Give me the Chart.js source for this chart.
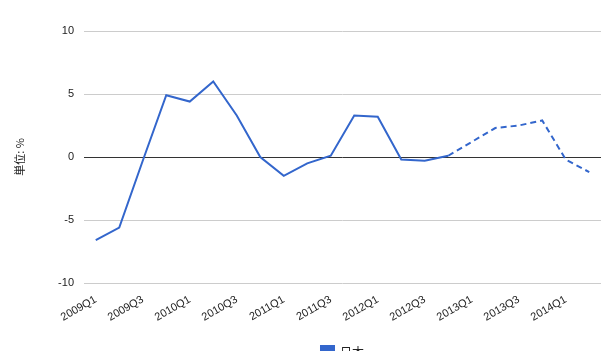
<!DOCTYPE html>
<html>
<head>
<meta charset="utf-8">
<script src="https://cdn.jsdelivr.net/npm/chart.js@4"></script>
<style>
  html, body { margin: 0; padding: 0; background: #fff; overflow: hidden; }
  #wrap { width: 616px; height: 369px; position: relative; }
</style>
</head>
<body>
<div id="wrap"><canvas id="chart"></canvas></div>
<script>
// 四半期ラベル
const quarters = [
  "2009Q1", "2009Q2", "2009Q3", "2009Q4",
  "2010Q1", "2010Q2", "2010Q3", "2010Q4",
  "2011Q1", "2011Q2", "2011Q3", "2011Q4",
  "2012Q1", "2012Q2", "2012Q3", "2012Q4",
  "2013Q1", "2013Q2", "2013Q3", "2013Q4",
  "2014Q1", "2014Q2"
];

// 日本 (単位: %)
const japanValues = [
  -6.6, -5.6, -0.3, 4.9,
  4.4, 6.0, 3.3, 0.0,
  -1.5, -0.5, 0.1, 3.3,
  3.2, -0.2, -0.3, 0.1,
  1.2, 2.3, 2.5, 2.9,
  -0.2, -1.2
];

// ここから先は予測値 (破線)
const forecastFrom = 15;

const yTicks = [-10, -5, 0, 5, 10];

const FONT = "'Liberation Sans', Arial, sans-serif";

// 凡例をグラフ領域の中央に寄せる
const centerLegend = {
  id: "centerLegend",
  afterLayout(chart) {
    const lg = chart.legend;
    const area = chart.chartArea;
    lg.left = area.left;
    lg.right = area.right;
    lg.width = area.right - area.left;
  },
};

new Chart(document.getElementById("chart"), {
  type: "line",
  data: {
    labels: quarters,
    datasets: [
      {
        label: "日本",
        data: japanValues,
        borderColor: "#3366cc",
        backgroundColor: "#3366cc",
        borderWidth: 2,
        pointRadius: 0,
        tension: 0,
        segment: {
          borderDash: (ctx) => (ctx.p0DataIndex >= forecastFrom ? [6, 4] : undefined),
        },
      },
    ],
  },
  plugins: [centerLegend],
  options: {
    responsive: true,
    maintainAspectRatio: false,
    animation: false,
    layout: { padding: { left: 8, right: 15, top: 31 } },
    scales: {
      x: {
        offset: true,
        grid: { display: false },
        border: { display: false },
        ticks: {
          autoSkip: false,
          maxRotation: 30,
          minRotation: 30,
          color: "#222",
          font: { family: FONT, size: 11 },
          padding: 2,
          callback: function (val, i) {
            return i % 2 === 0 ? this.getLabelForValue(val) : "";
          },
        },
        afterFit: (scale) => { scale.height = 53; },
      },
      y: {
        min: -10,
        max: 10,
        afterBuildTicks: (scale) => {
          scale.ticks = yTicks.map((v) => ({ value: v }));
        },
        grid: {
          color: (ctx) => (ctx.tick && ctx.tick.value === 0 ? "#333" : "#ccc"),
          lineWidth: 1,
          drawTicks: false,
        },
        border: { display: false },
        ticks: {
          color: "#222",
          font: { family: FONT, size: 11 },
          padding: 10,
        },
        title: {
          display: true,
          text: "単位: %",
          color: "#222",
          font: { family: "'Noto Sans CJK JP', sans-serif", size: 11 },
          padding: { top: 5, bottom: 25 },
        },
        afterFit: (scale) => { scale.width = 76; },
      },
    },
    plugins: {
      legend: {
        position: "bottom",
        labels: {
          boxWidth: 13,
          boxHeight: 13,
          color: "#222",
          font: { family: "'Noto Sans CJK JP', sans-serif", size: 12 },
          padding: 10,
        },
      },
      tooltip: { enabled: false },
    },
  },
});
</script>
</body>
</html>
